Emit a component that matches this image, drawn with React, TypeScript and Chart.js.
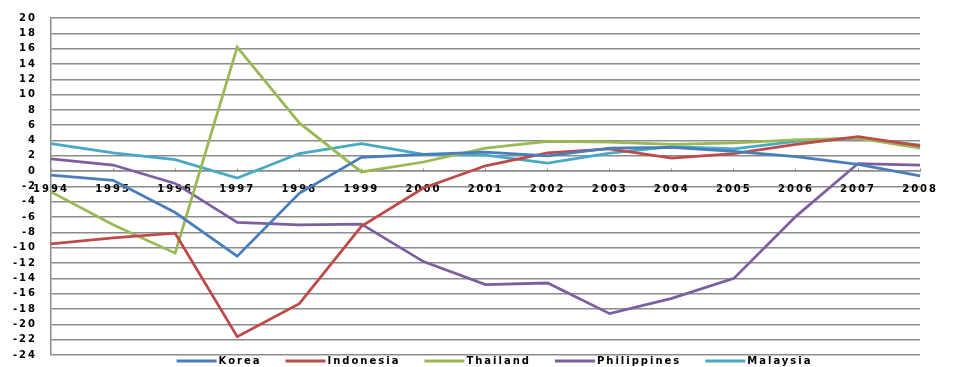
import React, { useEffect, useRef } from "react";
import { Chart, registerables } from "chart.js";

Chart.register(...registerables);

const years = ["1994", "1995", "1996", "1997", "1998", "1999", "2000", "2001", "2002", "2003", "2004", "2005", "2006", "2007", "2008"];
const korea = [-0.5, -1.2, -5.4, -11.1, -2.9, 1.8, 2.2, 2.5, 2.0, 3.0, 3.1, 2.6, 1.9, 0.9, -0.6];
const indonesia = [-9.5, -8.7, -8.1, -21.6, -17.3, -7.2, -2.2, 0.7, 2.4, 2.9, 1.7, 2.3, 3.5, 4.5, 3.3];
const thailand = [-2.7, -7.0, -10.7, 16.2, 6.3, -0.1, 1.2, 3.0, 3.9, 3.8, 3.5, 3.7, 4.1, 4.3, 3.0];
const philippines = [1.6, 0.8, -1.6, -6.7, -7.0, -6.9, -11.8, -14.8, -14.6, -18.6, -16.6, -14.0, -5.9, 1.0, 0.8];
const malaysia = [3.6, 2.4, 1.5, -0.9, 2.3, 3.6, 2.2, 2.1, 1.05, 2.35, 3.2, 2.9, 3.9, 4.3, 3.4];

const seriesNames = ["Korea", "Indonesia", "Thailand", "Philippines", "Malaysia"];
const seriesColors = ["#4A7EBB", "#BE4B48", "#98B954", "#7D5FA0", "#46AAC5"];
const yMin = -24;
const yMax = 20;
const yStep = 2;

const FONT = { family: "'DejaVu Sans', Verdana, sans-serif", size: 10, weight: "bold" as const };
const FONT_CSS = "bold 10px 'DejaVu Sans', Verdana, sans-serif";

const spacingPlugin = {
  id: "letterSpacing",
  beforeUpdate(chart: any) {
    chart.ctx.letterSpacing = "2px";
  },
  beforeLayout(chart: any) {
    chart.ctx.letterSpacing = "2px";
  },
  beforeDraw(chart: any) {
    chart.ctx.letterSpacing = "2px";
  },
};

// Legend drawn from the chart's datasets: a 40px line sample then the label.
const lineLegendPlugin = {
  id: "lineLegend",
  afterDraw(chart: any) {
    const ctx = chart.ctx;
    const sample = 40;
    const textGap = 2;
    const itemGap = 24;
    ctx.save();
    ctx.letterSpacing = "2px";
    ctx.font = FONT_CSS;
    const items = chart.data.datasets.map((ds: any) => ({
      text: ds.label as string,
      color: ds.borderColor as string,
      w: ctx.measureText(ds.label).width,
    }));
    const total = items.reduce((s: number, it: any) => s + sample + textGap + it.w, 0) + itemGap * (items.length - 1);
    const area = chart.chartArea;
    let x = (area.left + area.right) / 2 + 9 - total / 2;
    const y = area.bottom + 6;
    items.forEach((it: any) => {
      ctx.strokeStyle = it.color;
      ctx.lineWidth = 3;
      ctx.beginPath();
      ctx.moveTo(x, y);
      ctx.lineTo(x + sample, y);
      ctx.stroke();
      ctx.fillStyle = "#000";
      ctx.textBaseline = "middle";
      ctx.textAlign = "left";
      ctx.fillText(it.text, x + sample + textGap, y);
      x += sample + textGap + it.w + itemGap;
    });
    ctx.restore();
  },
};

export default function App() {
  const canvasRef = useRef<HTMLCanvasElement | null>(null);

  useEffect(() => {
    document.body.style.margin = "0";
    const canvas = canvasRef.current;
    if (!canvas) return;
    const all = [korea, indonesia, thailand, philippines, malaysia];
    const chart = new Chart(canvas, {
      type: "line",
      data: {
        labels: years,
        datasets: all.map((d, i) => ({
          label: seriesNames[i],
          data: d,
          borderColor: seriesColors[i],
          backgroundColor: seriesColors[i],
          borderWidth: 2.75,
          pointRadius: 0,
          tension: 0,
          fill: false,
        })),
      },
      options: {
        animation: false,
        responsive: false,
        layout: { padding: { top: 18, right: 20, bottom: 12, left: 0 } },
        scales: {
          x: {
            type: "category",
            position: { y: 0 } as any,
            offset: false,
            grid: {
              drawOnChartArea: false,
              drawTicks: true,
              tickLength: -3,
              color: "#8c8c8c",
            },
            border: { display: true, color: "#8c8c8c", width: 1.5 },
            ticks: {
              color: "#000",
              font: FONT,
              padding: 15,
              maxRotation: 0,
              autoSkip: false,
            },
          },
          y: {
            min: yMin,
            max: yMax,
            afterFit: (scale: any) => {
              scale.width = 51;
              scale.paddingTop = 0;
              scale.paddingBottom = 0;
            },
            grid: { color: "#8c8c8c", lineWidth: 1.5, drawTicks: false },
            border: { display: true, color: "#8c8c8c", width: 1.5 },
            ticks: {
              stepSize: yStep,
              color: "#000",
              font: FONT,
              padding: 14,
            },
          },
        },
        plugins: {
          tooltip: { enabled: false },
          legend: { display: false },
        },
      },
      plugins: [spacingPlugin, lineLegendPlugin],
    });
    return () => chart.destroy();
  }, []);

  return <canvas ref={canvasRef} width={953} height={367} style={{ display: "block" }} />;
}
